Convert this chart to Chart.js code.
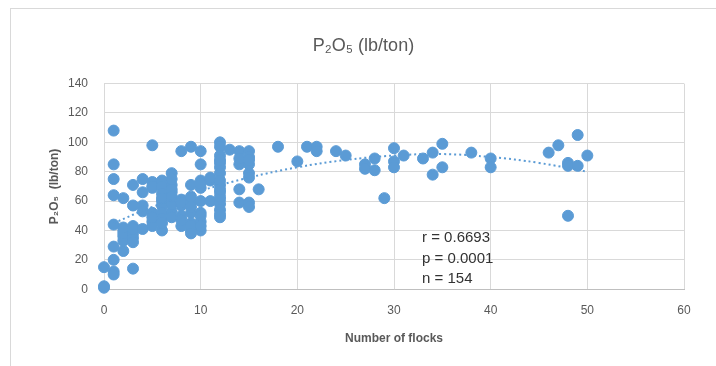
<!DOCTYPE html>
<html>
<head>
<meta charset="utf-8">
<script src="https://cdn.jsdelivr.net/npm/chart.js@4/dist/chart.umd.min.js"></script>
<style>
  html, body { margin: 0; padding: 0; background: #fff; }
  #wrap { position: relative; width: 716px; height: 366px; }
  #frame { position: absolute; left: 10px; top: 8px; width: 720px; height: 370px; border: 1px solid #d9d9d9; box-sizing: border-box; }
  canvas { position: absolute; left: 0; top: 0; }
</style>
</head>
<body>
<div id="wrap">
  <div id="frame"></div>
  <canvas id="chart" width="716" height="366"></canvas>
</div>
<script>
"use strict";

// number of flocks (x) and P2O5 lb/ton (y), one entry per sample
const flocks = [
  0, 0, 0,
  1, 1, 1, 1, 1, 1, 1, 1, 1,
  2, 2, 2, 2, 2, 2, 2,
  3, 3, 3, 3, 3, 3, 3, 3,
  4, 4, 4, 4, 4,
  5, 5, 5, 5, 5, 5, 5, 5,
  6, 6, 6, 6, 6, 6, 6, 6, 6, 6,
  7, 7, 7, 7, 7, 7, 7, 7, 7,
  8, 8, 8, 8, 8, 8, 8,
  9, 9, 9, 9, 9, 9, 9, 9, 9, 9,
  10, 10, 10, 10, 10, 10, 10, 10, 10, 10, 10,
  11, 11, 11,
  12, 12, 12, 12, 12, 12, 12, 12, 12, 12, 12, 12, 12, 12, 12, 12, 12,
  13,
  14, 14, 14, 14, 14,
  15, 15, 15, 15, 15, 15, 15, 15,
  16, 18, 20, 21, 22, 22, 24, 25, 27, 27, 28, 28, 29,
  30, 30, 30, 31, 33, 34, 34, 35, 35, 38, 40, 40,
  46, 47, 48, 48, 48, 49, 49, 50
];
const p2o5 = [
  1, 15, 2,
  108, 85, 75, 64, 44, 29, 20, 12, 10,
  62, 40, 36, 26, 33, 38, 42,
  71, 57, 43, 38, 35, 14, 41, 32,
  75, 66, 57, 53, 41,
  98, 73, 69, 52, 46, 43, 49, 70,
  74, 70, 60, 57, 52, 48, 40, 65, 45, 62,
  79, 71, 66, 53, 49, 68, 58, 63, 75,
  94, 61, 57, 50, 43, 59, 47,
  97, 71, 59, 52, 45, 40, 56, 43, 38, 63,
  94, 85, 74, 69, 60, 52, 46, 40, 72, 50, 43,
  74, 60, 76,
  100, 97, 91, 86, 83, 79, 71, 66, 61, 58, 54, 49, 88, 74, 63, 51, 68,
  95,
  94, 85, 68, 59, 89,
  94, 90, 85, 79, 76, 59, 56, 88,
  68, 97, 87, 97, 97, 94, 94, 91, 85, 82, 89, 81, 62,
  96, 87, 83, 91, 89, 93, 78, 99, 83, 93, 89, 83,
  93, 98, 86, 84, 50, 105, 84, 91
];

// dotted trend line
const trendX = [1, 5, 10, 15, 20, 25, 30, 35, 40, 45, 50];
const trendY = [45, 56, 67, 76, 83, 88, 91, 92, 90, 86, 80];

const statLines = ["r = 0.6693", "p = 0.0001", "n = 154"];

const BLUE = "#5b9bd5";
const GREY = "#595959";
const FONT = "'Liberation Sans', Arial, sans-serif";

const statsPlugin = {
  id: "stats",
  afterDatasetsDraw(chart) {
    const ctx = chart.ctx;
    const xs = chart.scales.x, ys = chart.scales.y;
    ctx.save();
    ctx.fillStyle = "#333";
    ctx.font = "15px " + FONT;
    ctx.textBaseline = "middle";
    const left = xs.getPixelForValue(32.9);
    statLines.forEach((t, i) => {
      ctx.fillText(t, left, ys.getPixelForValue(35 - i * 14));
    });
    ctx.restore();
  }
};

new Chart(document.getElementById("chart"), {
  type: "scatter",
  data: {
    datasets: [
      {
        label: "P2O5",
        data: flocks.map((x, i) => ({ x: x, y: p2o5[i] })),
        backgroundColor: BLUE,
        borderColor: BLUE,
        pointRadius: 5.5,
        pointHoverRadius: 5.5,
        clip: false,
        order: 2
      },
      {
        label: "trend",
        type: "line",
        data: trendX.map((x, i) => ({ x: x, y: trendY[i] })),
        borderColor: BLUE,
        borderWidth: 2,
        borderDash: [2, 3],
        pointRadius: 0,
        tension: 0.4,
        fill: false,
        order: 1
      }
    ]
  },
  options: {
    responsive: false,
    animation: false,
    layout: { padding: { left: 43, right: 32, top: 12, bottom: 16 } },
    plugins: {
      legend: { display: false },
      tooltip: { enabled: false },
      title: {
        display: true,
        text: "P\u2082O\u2085 (lb/ton)",
        color: GREY,
        font: { family: FONT, size: 18, weight: "normal" },
        padding: { top: 23, bottom: 27 }
      }
    },
    scales: {
      x: {
        type: "linear",
        min: 0,
        max: 60,
        ticks: { stepSize: 10, color: GREY, font: { size: 12, family: FONT }, padding: 14 },
        grid: { color: "#d9d9d9", drawTicks: false },
        border: { color: "#bfbfbf" },
        title: {
          display: true,
          text: "Number of flocks",
          color: GREY,
          font: { size: 12, weight: "bold", family: FONT },
          padding: { top: 0 }
        }
      },
      y: {
        min: 0,
        max: 140,
        ticks: { stepSize: 20, color: GREY, font: { size: 12, family: FONT }, padding: 16 },
        grid: { color: "#d9d9d9", drawTicks: false },
        border: { display: false },
        title: {
          display: true,
          text: "P\u2082O\u2085  (lb/ton)",
          color: GREY,
          font: { size: 12, weight: "bold", family: FONT },
          padding: { bottom: 6 }
        },
        afterFit(s) { s.width = 61; }
      }
    }
  },
  plugins: [statsPlugin]
});
</script>
</body>
</html>
